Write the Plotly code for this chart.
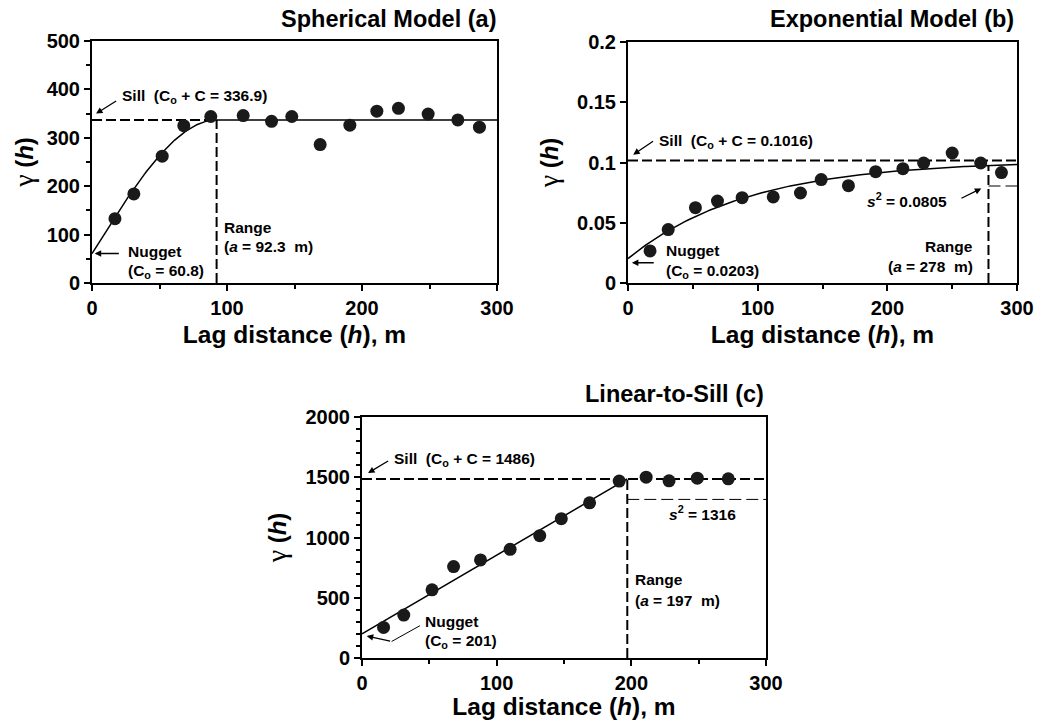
import numpy as np
import plotly.graph_objects as go

# ---------------- data ----------------
# (a) Spherical model
lag_a = [17, 31, 52, 68, 88, 112, 133, 148, 169, 191, 211, 227, 249, 271, 287]
gam_a = [133, 184, 262, 325, 344, 346, 334, 344, 286, 326, 355, 361, 349, 337, 322]
nug_a, sill_a, range_a = 60.8, 336.9, 92.3

# (b) Exponential model
lag_b = [17, 31, 52, 69, 88, 112, 133, 149, 170, 191, 212, 228, 250, 272, 288]
gam_b = [0.0266, 0.0443, 0.0625, 0.068, 0.0708, 0.0714, 0.0747, 0.0858, 0.0808,
         0.0924, 0.0949, 0.0996, 0.1079, 0.0996, 0.0916]
nug_b, sill_b, range_b, s2_b = 0.0203, 0.1016, 278, 0.0805

# (c) Linear-to-sill model
lag_c = [16, 31, 52, 68, 88, 110, 132, 148, 169, 191, 211, 228, 249, 272]
gam_c = [254, 356, 566, 759, 814, 902, 1015, 1156, 1288, 1468, 1501, 1470, 1492, 1487]
nug_c, sill_c, range_c, s2_c = 201, 1486, 197, 1316

FONT = "Liberation Sans, Arial, sans-serif"
DASH = "10px,4px"
THIN_DASH = "12px,5px"

# model curves from the stated parameters
h_a = np.linspace(0, range_a, 120)
curve_a = nug_a + (sill_a - nug_a) * (1.5 * h_a / range_a - 0.5 * (h_a / range_a) ** 3)
h_b = np.linspace(0, 300, 200)
curve_b = nug_b + (sill_b - nug_b) * (1 - np.exp(-3 * h_b / range_b))
top_b = nug_b + (sill_b - nug_b) * (1 - np.exp(-3.0))

fig = go.Figure()


def pts(x, y, xa, ya):
    fig.add_trace(go.Scatter(x=x, y=y, mode="markers", xaxis=xa, yaxis=ya,
                             marker=dict(color="#1a1a1a", size=13), showlegend=False))


def line(x, y, xa, ya, dash="solid", width=1.5):
    fig.add_trace(go.Scatter(x=x, y=y, mode="lines", xaxis=xa, yaxis=ya,
                             line=dict(color="black", width=width, dash=dash),
                             showlegend=False, hoverinfo="skip"))


# ---- panel a ----
line([0, range_a], [sill_a, sill_a], "x", "y", dash=DASH, width=2)
line([range_a, range_a], [0, sill_a], "x", "y", dash=DASH, width=2)
line(list(h_a) + [300], list(curve_a) + [sill_a], "x", "y")
pts(lag_a, gam_a, "x", "y")

# ---- panel b ----
line([0, 300], [sill_b, sill_b], "x2", "y2", dash=DASH, width=2)
line([range_b, range_b], [0, top_b], "x2", "y2", dash=DASH, width=2)
line([range_b, 300], [s2_b, s2_b], "x2", "y2", dash=THIN_DASH, width=1)
line(h_b, curve_b, "x2", "y2")
pts(lag_b, gam_b, "x2", "y2")

# ---- panel c ----
line([0, 300], [sill_c, sill_c], "x3", "y3", dash=DASH, width=2)
line([range_c, range_c], [0, sill_c], "x3", "y3", dash=DASH, width=2)
line([range_c, 300], [s2_c, s2_c], "x3", "y3", dash=THIN_DASH, width=1)
line([0, range_c], [nug_c, sill_c], "x3", "y3")
line([43, 22], [268, 137], "x3", "y3", width=1)
pts(lag_c, gam_c, "x3", "y3")


def xaxis(domain, anchor):
    return dict(domain=domain, anchor=anchor, range=[0, 300], tickvals=[0, 100, 200, 300],
                automargin=False,
                showline=True, linewidth=2, linecolor="black", mirror=True,
                ticks="outside", ticklen=6, tickwidth=2, tickcolor="black",
                minor=dict(dtick=50, ticks="outside", ticklen=4, tickwidth=1.5, tickcolor="black"),
                showgrid=False, zeroline=False,
                tickfont=dict(family=FONT, size=20, color="black", weight="bold"),
                title=dict(text="<b>Lag distance (<i>h</i>), m</b>",
                           font=dict(family=FONT, size=24.5, color="black"), standoff=8))


def yaxis(domain, anchor, rng, dtick, minor):
    d = dict(domain=domain, anchor=anchor, range=rng, dtick=dtick, tick0=0,
             automargin=False,
             showline=True, linewidth=2, linecolor="black", mirror=True,
             ticks="outside", ticklen=6, tickwidth=2, tickcolor="black",
             showgrid=False, zeroline=False,
             tickfont=dict(family=FONT, size=20, color="black", weight="bold"),
             title=dict(text="<span style='font-family:Liberation Serif, serif;font-size:28px'>γ</span>"
                             " <b>(<i>h</i>)</b>",
                        font=dict(family=FONT, size=24, color="black"), standoff=12))
    if minor:
        d["minor"] = dict(dtick=minor, ticks="outside", ticklen=4, tickwidth=1.5,
                          tickcolor="black")
    return d


# the page body adds an 8 px margin, so the figure is 16 px smaller than the window
W, H = 1047, 712


def px(x):
    return (x - 8) / W


def py(y):
    return 1 - (y - 8) / H


fig.update_layout(
    width=W, height=H, margin=dict(l=0, r=0, t=0, b=0),
    paper_bgcolor="white", plot_bgcolor="white",
    xaxis=xaxis([px(92), px(497)], "y"),
    yaxis=yaxis([py(283), py(41)], "x", [0, 500], 100, 50),
    xaxis2=xaxis([px(628), px(1017)], "y2"),
    yaxis2=yaxis([py(283), py(42)], "x2", [0, 0.2], 0.05, None),
    xaxis3=xaxis([px(362), px(766)], "y3"),
    yaxis3=yaxis([py(658), py(417)], "x3", [0, 2000], 500, 100),
)

ann = []
AF = dict(family=FONT, size=15.5, color="black")


def txt(x, y, t, xr, yr, xanchor="left"):
    ann.append(dict(x=x, y=y, xref=xr, yref=yr, text="<b>" + t + "</b>", showarrow=False,
                    xanchor=xanchor, yanchor="middle", font=AF))


def arrow(x, y, ax, ay, xr, yr):
    ann.append(dict(x=x, y=y, ax=ax, ay=ay, xref=xr, yref=yr, axref=xr, ayref=yr,
                    text="", showarrow=True, arrowhead=2, arrowsize=1, arrowwidth=1.3,
                    arrowcolor="black"))


def title(x, y, t):
    ann.append(dict(x=x, y=y, xref="paper", yref="paper", text="<b>" + t + "</b>",
                    showarrow=False, xanchor="right", yanchor="bottom",
                    font=dict(family=FONT, size=23.5, color="black")))


title(px(498), py(34), "Spherical Model (a)")
title(px(1016), py(34), "Exponential Model (b)")
title(px(766), py(409), "Linear-to-Sill (c)")

# panel a
txt(20.5, 385, "Sill  (C<sub>o</sub> + C = 336.9)", "x", "y")
arrow(3, 350, 19, 378, "x", "y")
txt(25, 65, "Nugget", "x", "y")
txt(25, 24, "(C<sub>o</sub> = 60.8)", "x", "y")
arrow(2, 61, 21, 61, "x", "y")
txt(96, 114, "Range", "x", "y")
txt(96, 75, "(<i>a</i> = 92.3  m)", "x", "y")

# panel b
txt(22, 0.1175, "Sill  (C<sub>o</sub> + C = 0.1016)", "x2", "y2")
arrow(4, 0.1065, 20.5, 0.1185, "x2", "y2")
txt(28, 0.0268, "Nugget", "x2", "y2")
txt(28, 0.0094, "(C<sub>o</sub> = 0.0203)", "x2", "y2")
arrow(3, 0.0168, 21, 0.0168, "x2", "y2")
txt(215, 0.0685, "<i>s</i><sup>2</sup> = 0.0805", "x2", "y2", "center")
arrow(272.5, 0.0785, 256, 0.0697, "x2", "y2")
txt(267.5, 0.030, "Range", "x2", "y2", "right")
txt(267.5, 0.0133, "(<i>a</i> = 278  m)", "x2", "y2", "right")

# panel c
txt(22, 1649, "Sill  (C<sub>o</sub> + C = 1486)", "x3", "y3")
arrow(4.5, 1535, 20.5, 1642, "x3", "y3")
txt(45.5, 301, "Nugget", "x3", "y3")
txt(45.5, 135, "(C<sub>o</sub> = 201)", "x3", "y3")
arrow(3.5, 183, 22, 137, "x3", "y3")
txt(253, 1200, "<i>s</i><sup>2</sup> = 1316", "x3", "y3", "center")
txt(201.5, 655, "Range", "x3", "y3")
txt(201.5, 481, "(<i>a</i> = 197  m)", "x3", "y3")

fig.update_layout(annotations=ann)
fig.write_html("out.html")
